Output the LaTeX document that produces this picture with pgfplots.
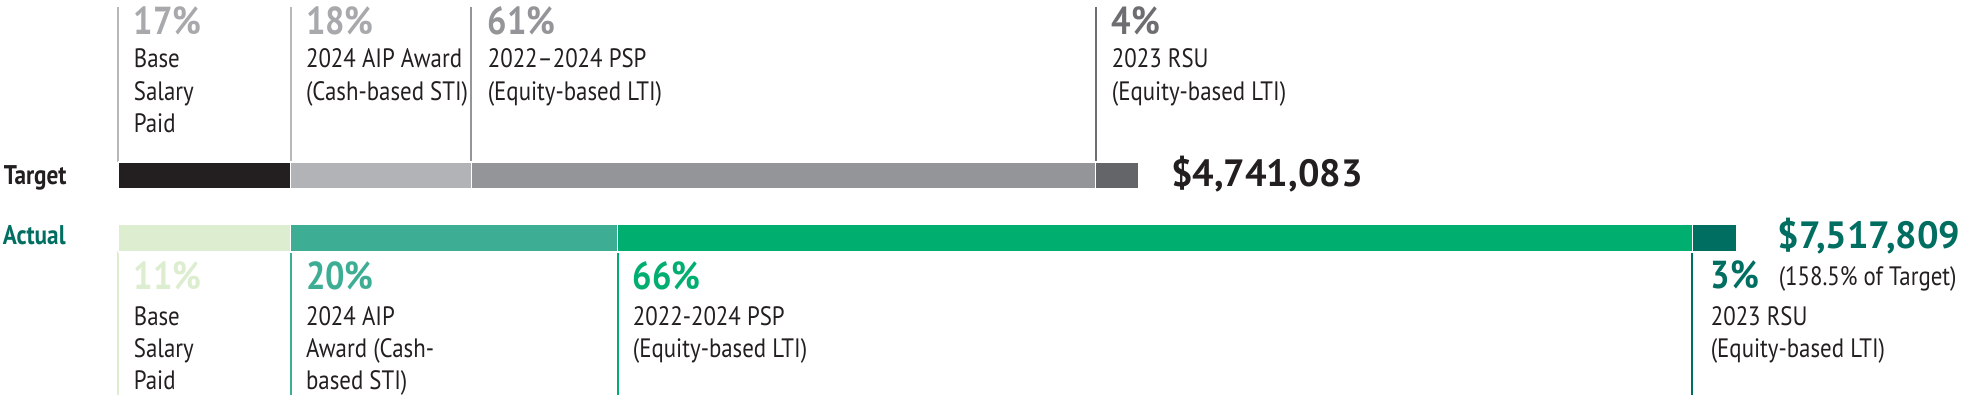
\documentclass[border=0pt]{standalone}
\usepackage{pgfplots}
\pgfplotsset{compat=1.18}
\usepackage{pgfplotstable}
\usepackage{fontspec}
\setmainfont{PT Sans}[FakeStretch=0.86]
\newfontfamily\numfont{PT Sans}[FakeStretch=0.88]
\newfontfamily\totfont{PT Sans}

\definecolor{ink}{HTML}{231F20}
\definecolor{tA}{HTML}{231F20}
\definecolor{tB}{HTML}{B1B3B6}
\definecolor{tC}{HTML}{939598}
\definecolor{tD}{HTML}{646569}
\definecolor{tLineA}{HTML}{B7B8BA}
\definecolor{tPctA}{HTML}{A7A9AC}
\definecolor{tPctD}{HTML}{6D6E71}
\definecolor{aA}{HTML}{DDEDD0}
\definecolor{aB}{HTML}{3DAE94}
\definecolor{aC}{HTML}{00AE6F}
\definecolor{aD}{HTML}{006E60}

% values in thousands of dollars; row = vertical position (pixel rows)
\pgfplotstableread{
row   T1  T2  T3   T4      A1  A2   A3     A4
175.5 800 840 2900 201.083 0   0    0      0
238.2 0   0   0    0       800 1519 4994.7 204.109
}\bars

\begin{document}
\begin{tikzpicture}[
  pct/.style={anchor=base west, inner sep=0, font=\numfont\bfseries\fontsize{19.5}{19.5}\selectfont},
  lbl/.style={anchor=base west, inner sep=0, font=\fontsize{13.3}{13.3}\selectfont, text=ink},
]
\useasboundingbox (0,0) rectangle (982pt,199.5pt);
\begin{axis}[
  at={(0,0)}, anchor=south west,
  scale only axis, width=982pt, height=199.5pt,
  xmin=-550.6, xmax=8575.7, ymin=0, ymax=399, y dir=reverse,
  hide axis, clip=false,
  xbar stacked, bar width=27.5,
]
\addplot[fill=tA, draw=white, line width=0.8pt] table[x=T1,y=row]{\bars};
\addplot[fill=tB, draw=white, line width=0.8pt] table[x=T2,y=row]{\bars};
\addplot[fill=tC, draw=white, line width=0.8pt] table[x=T3,y=row]{\bars};
\addplot[fill=tD, draw=white, line width=0.8pt] table[x=T4,y=row]{\bars};
\addplot[fill=aA, draw=white, line width=0.8pt] table[x=A1,y=row]{\bars};
\addplot[fill=aB, draw=white, line width=0.8pt] table[x=A2,y=row]{\bars};
\addplot[fill=aC, draw=white, line width=0.8pt] table[x=A3,y=row]{\bars};
\addplot[fill=aD, draw=white, line width=0.8pt] table[x=A4,y=row]{\bars};

% row labels
\node[anchor=base east, inner sep=0, font=\bfseries\fontsize{13.5}{13.5}\selectfont, text=ink] at (axis cs:-239.3,185) {Target};
\node[anchor=base east, inner sep=0, font=\bfseries\fontsize{13.5}{13.5}\selectfont, text=aD] at (axis cs:-244,245) {Actual};

% target leader lines
\draw[tLineA, line width=1pt] (axis cs:0,7) -- (axis cs:0,162);
\draw[tLineA, line width=1pt] (axis cs:800,7) -- (axis cs:800,162);
\draw[tC, line width=1pt] (axis cs:1640,7) -- (axis cs:1640,162);
\draw[tPctD, line width=1pt] (axis cs:4540,7) -- (axis cs:4540,162);

% target labels
\node[pct, text=tPctA, xshift=7.5pt] at (axis cs:0,35) {17\%};
\node[lbl, xshift=7.5pt] at (axis cs:0,68) {Base};
\node[lbl, xshift=7.5pt] at (axis cs:0,100.5) {Salary};
\node[lbl, xshift=7.5pt] at (axis cs:0,133) {Paid};

\node[pct, text=tPctA, xshift=7.5pt] at (axis cs:800,35) {18\%};
\node[lbl, xshift=7.5pt] at (axis cs:800,68) {2024 AIP Award};
\node[lbl, xshift=7.5pt] at (axis cs:800,100.5) {(Cash-based STI)};

\node[pct, text=tC, xshift=8pt] at (axis cs:1640,35) {61\%};
\node[lbl, xshift=8pt] at (axis cs:1640,68) {2022–2024 PSP};
\node[lbl, xshift=8pt] at (axis cs:1640,100.5) {(Equity-based LTI)};

\node[pct, text=tPctD, xshift=8pt] at (axis cs:4540,35) {4\%};
\node[lbl, xshift=8pt] at (axis cs:4540,68) {2023 RSU};
\node[lbl, xshift=8pt] at (axis cs:4540,100.5) {(Equity-based LTI)};

\node[anchor=base west, inner sep=0, font=\totfont\bfseries\fontsize{19}{19}\selectfont, text=ink, xshift=16pt] at (axis cs:4741.083,187) {\$4,741,083};

% actual leader lines
\draw[aA, line width=1pt] (axis cs:0,251) -- (axis cs:0,395);
\draw[aB, line width=1pt] (axis cs:800,251) -- (axis cs:800,395);
\draw[aC, line width=1pt] (axis cs:2319,251) -- (axis cs:2319,395);
\draw[aD, line width=1pt] (axis cs:7313.7,251) -- (axis cs:7313.7,395);

% actual labels
\node[pct, text=aA, xshift=7.5pt] at (axis cs:0,290) {11\%};
\node[lbl, xshift=7.5pt] at (axis cs:0,325.5) {Base};
\node[lbl, xshift=7.5pt] at (axis cs:0,358) {Salary};
\node[lbl, xshift=7.5pt] at (axis cs:0,390) {Paid};

\node[pct, text=aB, xshift=7.5pt] at (axis cs:800,290) {20\%};
\node[lbl, xshift=7.5pt] at (axis cs:800,325.5) {2024 AIP};
\node[lbl, xshift=7.5pt] at (axis cs:800,358) {Award (Cash-};
\node[lbl, xshift=7.5pt] at (axis cs:800,390) {based STI)};

\node[pct, text=aC, xshift=7.5pt] at (axis cs:2319,290) {66\%};
\node[lbl, xshift=7.5pt] at (axis cs:2319,325.5) {2022-2024 PSP};
\node[lbl, xshift=7.5pt] at (axis cs:2319,358) {(Equity-based LTI)};

\node[pct, text=aD, xshift=9pt] at (axis cs:7313.7,289) {3\%};
\node[lbl, xshift=9pt] at (axis cs:7313.7,326) {2023 RSU};
\node[lbl, xshift=9pt] at (axis cs:7313.7,358) {(Equity-based LTI)};

\node[anchor=base west, inner sep=0, font=\totfont\bfseries\fontsize{19}{19}\selectfont, text=aD, xshift=20.5pt] at (axis cs:7517.809,249) {\$7,517,809};
\node[anchor=base west, inner sep=0, font=\fontsize{13.3}{13.3}\selectfont, text=ink, xshift=21pt] at (axis cs:7517.809,286) {(158.5\% of Target)};
\end{axis}
\end{tikzpicture}
\end{document}
